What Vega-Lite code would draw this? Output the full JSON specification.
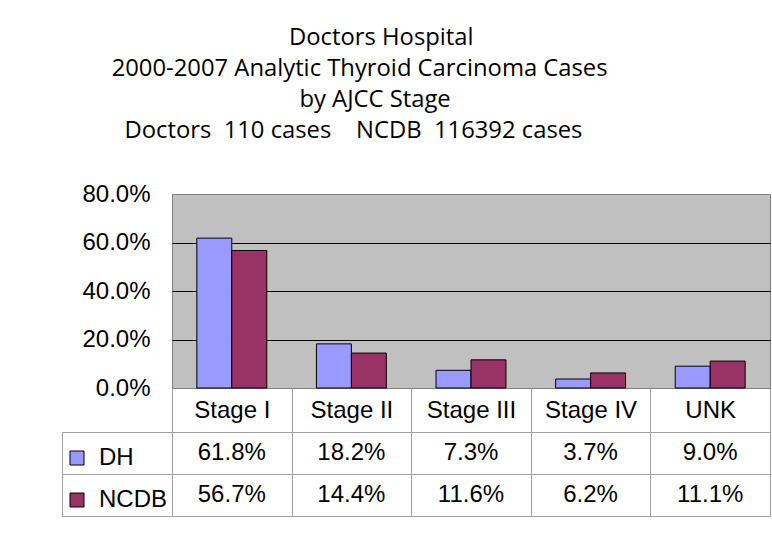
{
  "$schema": "https://vega.github.io/schema/vega-lite/v6.json",
  "padding": {"left": 61, "top": 25, "right": 0, "bottom": 0},
  "background": "white",
  "title": {
    "text": [
      "Doctors Hospital",
      "2000-2007 Analytic Thyroid Carcinoma Cases\u00a0\u00a0\u00a0\u00a0\u00a0\u00a0\u00a0\u200b",
      "by AJCC Stage\u00a0\u00a0\u200b",
      "Doctors\u00a0 110 cases\u00a0\u00a0\u00a0 NCDB\u00a0 116392 cases\u00a0\u00a0\u00a0\u00a0\u00a0\u00a0\u00a0\u00a0\u00a0\u200b"
    ],
    "font": "Open Sans",
    "fontSize": 23.8,
    "fontWeight": "normal",
    "lineHeight": 31,
    "color": "black",
    "anchor": "middle",
    "dx": -35,
    "offset": 39
  },
  "datasets": {
    "rates": [
      {"stage": "Stage I", "series": "DH", "value": 0.618},
      {"stage": "Stage II", "series": "DH", "value": 0.182},
      {"stage": "Stage III", "series": "DH", "value": 0.073},
      {"stage": "Stage IV", "series": "DH", "value": 0.037},
      {"stage": "UNK", "series": "DH", "value": 0.090},
      {"stage": "Stage I", "series": "NCDB", "value": 0.567},
      {"stage": "Stage II", "series": "NCDB", "value": 0.144},
      {"stage": "Stage III", "series": "NCDB", "value": 0.116},
      {"stage": "Stage IV", "series": "NCDB", "value": 0.062},
      {"stage": "UNK", "series": "NCDB", "value": 0.111}
    ]
  },
  "data": {"name": "rates"},
  "bounds": "flush",
  "spacing": 44,
  "resolve": {"legend": {"color": "independent"}},
  "vconcat": [
    {
      "width": 598,
      "height": 194,
      "view": {"fill": "#c0c0c0", "stroke": "#808080", "strokeWidth": 1},
      "mark": {"type": "bar", "stroke": "black", "strokeWidth": 1},
      "encoding": {
        "x": {
          "field": "stage", "type": "nominal",
          "sort": ["Stage I", "Stage II", "Stage III", "Stage IV", "UNK"],
          "scale": {"paddingInner": 0, "paddingOuter": 0},
          "axis": {
            "title": null, "orient": "bottom", "domain": false, "grid": false,
            "ticks": true, "tickBand": "extent", "tickSize": 44, "tickColor": "#a0a0a0", "tickWidth": 1,
            "labelFont": "Liberation Sans", "labelFontSize": 24, "labelColor": "black",
            "labelAngle": 0, "labelPadding": -34
          }
        },
        "xOffset": {
          "field": "series", "type": "nominal", "sort": ["DH", "NCDB"],
          "scale": {"paddingInner": 0, "paddingOuter": 0.71}
        },
        "y": {
          "field": "value", "type": "quantitative",
          "scale": {"domain": [0, 0.8]},
          "axis": {
            "title": null, "values": [0, 0.2, 0.4, 0.6, 0.8], "format": ".1%",
            "domain": false, "ticks": false, "labelPadding": 22,
            "labelFont": "Liberation Sans", "labelFontSize": 24, "labelColor": "black",
            "grid": true,
            "gridColor": {"condition": {"test": "datum.value === 0 || datum.value === 0.8", "value": "#808080"}, "value": "black"},
            "gridWidth": 1, "gridOpacity": 1
          }
        },
        "color": {
          "field": "series", "type": "nominal",
          "scale": {"domain": ["DH", "NCDB"], "range": ["#9999ff", "#993366"]},
          "legend": null
        }
      }
    },
    {
      "width": 598,
      "height": 84,
      "view": {"stroke": null},
      "resolve": {"axis": {"y": "independent"}},
      "layer": [
        {
          "mark": {"type": "text", "font": "Liberation Sans", "fontSize": 24, "color": "black", "baseline": "middle"},
          "encoding": {
            "x": {
              "field": "stage", "type": "nominal",
              "sort": ["Stage I", "Stage II", "Stage III", "Stage IV", "UNK"],
              "scale": {"paddingInner": 0, "paddingOuter": 0},
              "axis": {
                "title": null, "orient": "bottom", "labels": false, "ticks": false, "domain": false,
                "grid": true, "tickBand": "extent", "gridColor": "#a0a0a0", "gridWidth": 1, "gridOpacity": 1
              }
            },
            "y": {
              "field": "series", "type": "nominal", "sort": ["DH", "NCDB"],
              "scale": {"paddingInner": 0, "paddingOuter": 0},
              "axis": {
                "title": null, "orient": "left", "labels": false, "domain": false,
                "ticks": true, "tickBand": "extent", "tickSize": 110, "tickColor": "#a0a0a0", "tickWidth": 1,
                "grid": true, "gridColor": "#a0a0a0", "gridWidth": 1, "gridOpacity": 1
              }
            },
            "text": {"field": "value", "type": "quantitative", "format": ".1%"}
          }
        },
        {
          "mark": {"type": "square", "opacity": 0},
          "encoding": {
            "y": {
              "field": "series", "type": "nominal", "sort": ["DH", "NCDB"],
              "axis": {
                "title": null, "orient": "left", "offset": 110, "labels": false, "ticks": false,
                "grid": false, "domain": true, "domainColor": "#a0a0a0", "domainWidth": 1
              }
            },
            "color": {
              "field": "series", "type": "nominal",
              "scale": {"domain": ["DH", "NCDB"], "range": ["#9999ff", "#993366"]},
              "legend": {
                "title": null, "orient": "none", "legendX": -107, "legendY": 14,
                "symbolType": "square", "symbolSize": 196, "symbolStrokeColor": "black",
                "symbolStrokeWidth": 1, "symbolOpacity": 1,
                "labelFont": "Liberation Sans", "labelFontSize": 24, "labelColor": "black",
                "labelOffset": 10, "rowPadding": 18, "padding": 0
              }
            }
          }
        }
      ]
    }
  ]
}
